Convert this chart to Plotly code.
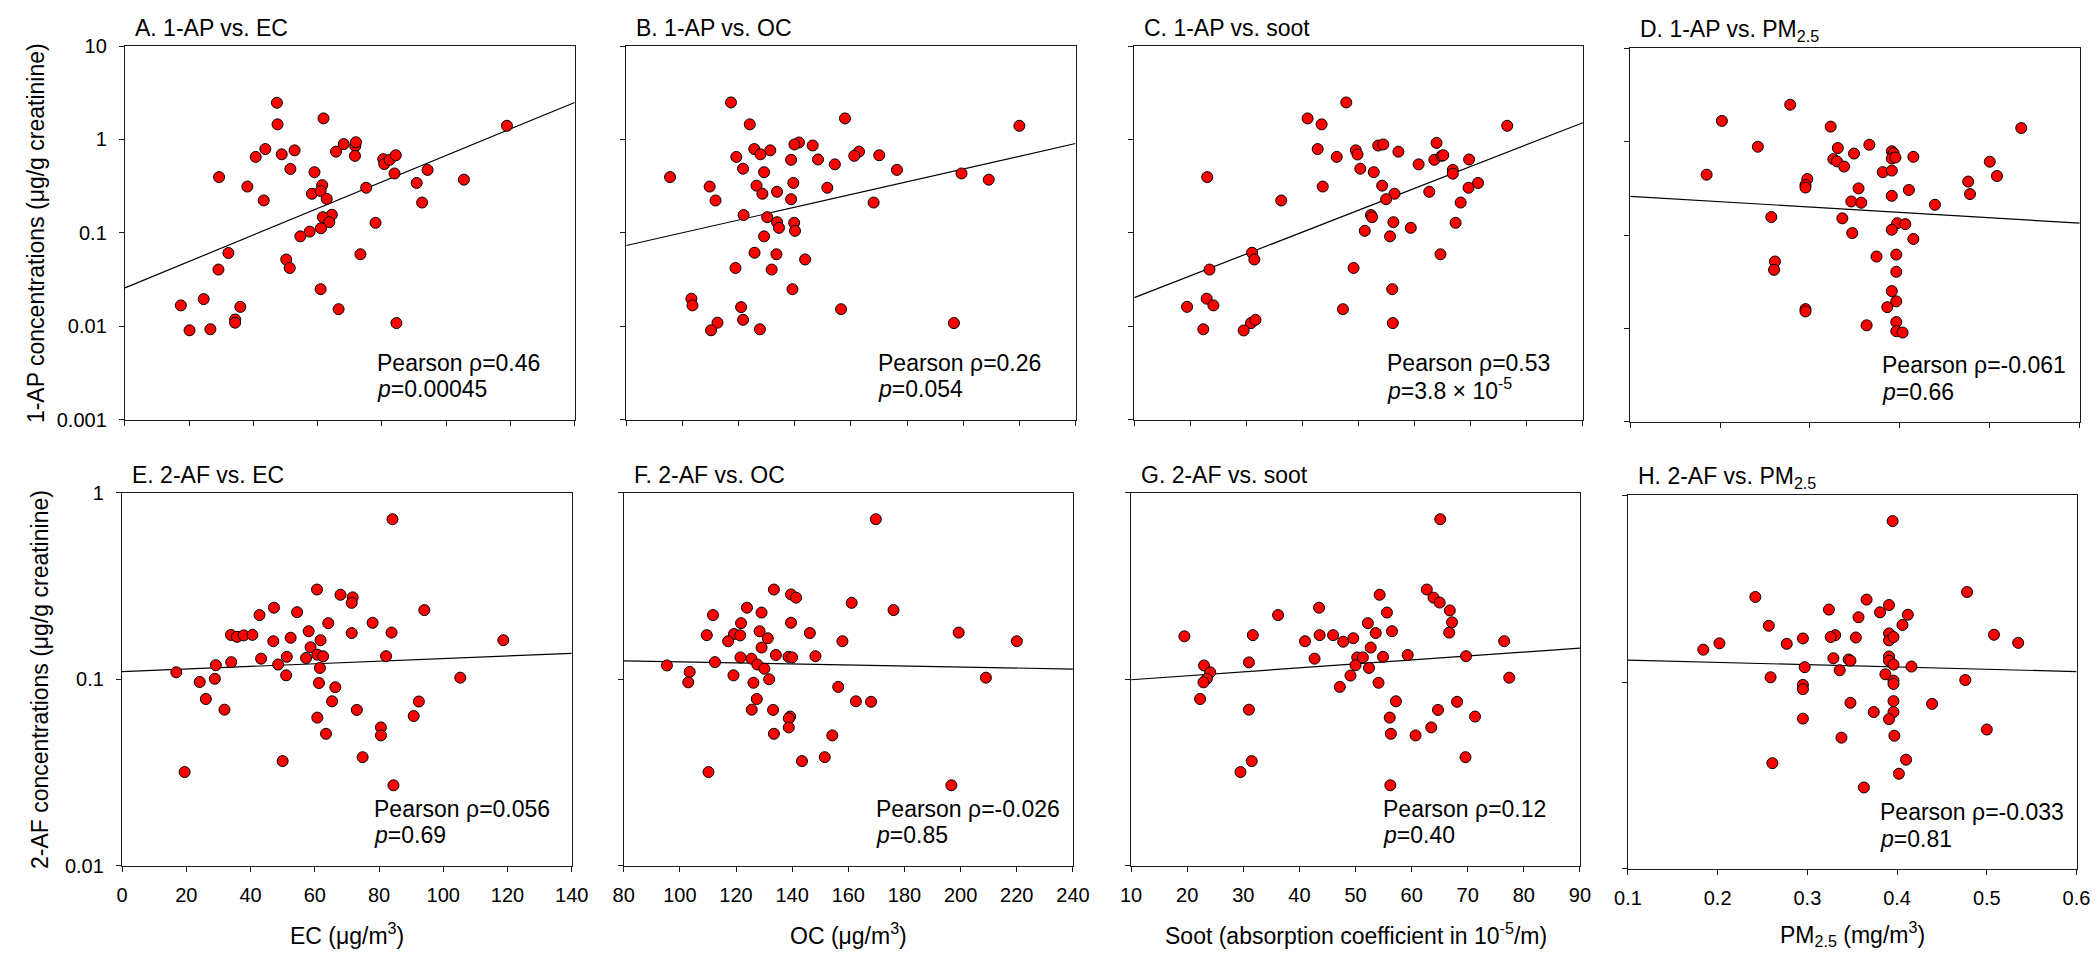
import plotly.graph_objects as go

W, H = 2100, 955
FONT = "Liberation Sans, Arial, sans-serif"

# ---------------- data ----------------
xA = [47.3, 47.5, 61.8, 118.9, 43.7, 40.7, 48.8, 52.8, 51.5, 29.3, 38.1, 43.2, 59.0, 61.4, 58.2, 60.9, 62.8, 68.1, 65.7, 71.7, 71.9, 71.6, 80.4, 80.7, 82.4, 84.3, 83.9, 94.2, 90.8, 105.5, 92.5, 75.1, 64.4, 61.6, 63.6, 61.0, 57.5, 54.6, 78.0, 32.2, 73.3, 50.2, 51.3, 29.1, 60.9, 17.4, 24.5, 35.9, 66.5, 34.3, 34.3, 20.1, 26.6, 84.5]
yA = [2.47, 1.45, 1.68, 1.40, 0.789, 0.65, 0.693, 0.764, 0.483, 0.395, 0.313, 0.222, 0.446, 0.324, 0.262, 0.28, 0.231, 0.891, 0.74, 0.848, 0.933, 0.667, 0.615, 0.545, 0.605, 0.677, 0.432, 0.472, 0.342, 0.371, 0.211, 0.304, 0.156, 0.147, 0.13, 0.112, 0.103, 0.0916, 0.128, 0.0608, 0.0589, 0.0518, 0.042, 0.0404, 0.0249, 0.0167, 0.0195, 0.0161, 0.0152, 0.0118, 0.0109, 0.00904, 0.00927, 0.0108]

xB = [117.3, 124.0, 157.9, 220.0, 141.5, 139.9, 146.4, 125.6, 131.3, 127.8, 119.2, 138.7, 148.3, 162.9, 161.2, 170.1, 154.3, 121.6, 129.1, 176.4, 199.4, 209.1, 95.6, 109.7, 126.4, 139.5, 151.6, 111.8, 128.5, 133.7, 138.7, 168.1, 121.8, 130.2, 133.7, 134.4, 139.8, 140.1, 129.1, 125.7, 133.5, 143.7, 118.9, 131.8, 139.2, 103.2, 103.6, 156.5, 120.9, 121.6, 112.5, 110.2, 127.6, 196.7]
yB = [2.49, 1.45, 1.68, 1.40, 0.927, 0.883, 0.861, 0.789, 0.764, 0.693, 0.65, 0.605, 0.61, 0.74, 0.667, 0.677, 0.541, 0.486, 0.446, 0.472, 0.432, 0.371, 0.395, 0.313, 0.32, 0.342, 0.304, 0.222, 0.262, 0.275, 0.229, 0.211, 0.155, 0.147, 0.13, 0.113, 0.128, 0.105, 0.0916, 0.0612, 0.0589, 0.0518, 0.042, 0.0404, 0.0249, 0.0197, 0.0167, 0.0152, 0.016, 0.0117, 0.0109, 0.00904, 0.00927, 0.0108]

xC = [47.8, 40.9, 43.4, 76.5, 63.9, 53.5, 54.4, 42.7, 49.5, 49.8, 57.1, 46.1, 63.5, 64.8, 65.1, 69.7, 60.7, 50.3, 52.7, 66.8, 66.8, 23.0, 43.6, 54.2, 71.3, 69.6, 62.6, 56.4, 54.9, 36.2, 68.2, 52.2, 52.4, 56.2, 59.3, 67.3, 51.1, 55.6, 31.0, 31.4, 64.6, 23.4, 49.1, 56.0, 22.9, 24.1, 19.4, 47.2, 30.8, 31.6, 56.1, 22.3, 29.5]
yC = [2.49, 1.68, 1.45, 1.40, 0.918, 0.861, 0.883, 0.789, 0.764, 0.69, 0.74, 0.65, 0.605, 0.667, 0.677, 0.61, 0.541, 0.486, 0.446, 0.472, 0.43, 0.395, 0.313, 0.32, 0.342, 0.304, 0.275, 0.262, 0.229, 0.222, 0.211, 0.155, 0.147, 0.13, 0.113, 0.128, 0.105, 0.0916, 0.0612, 0.0518, 0.0589, 0.0404, 0.042, 0.0249, 0.0197, 0.0167, 0.0161, 0.0152, 0.0108, 0.0117, 0.0108, 0.00927, 0.009]

xD = [0.278, 0.202, 0.323, 0.535, 0.242, 0.366, 0.331, 0.349, 0.391, 0.393, 0.391, 0.395, 0.415, 0.326, 0.330, 0.338, 0.381, 0.391, 0.5, 0.508, 0.185, 0.297, 0.295, 0.295, 0.354, 0.41, 0.476, 0.478, 0.391, 0.346, 0.357, 0.439, 0.257, 0.336, 0.397, 0.406, 0.391, 0.347, 0.415, 0.374, 0.396, 0.261, 0.26, 0.396, 0.391, 0.396, 0.386, 0.295, 0.295, 0.363, 0.396, 0.396, 0.403]
yD = [2.49, 1.67, 1.45, 1.40, 0.883, 0.927, 0.855, 0.746, 0.789, 0.752, 0.661, 0.677, 0.688, 0.65, 0.615, 0.541, 0.472, 0.49, 0.61, 0.429, 0.443, 0.398, 0.344, 0.323, 0.316, 0.304, 0.374, 0.275, 0.263, 0.229, 0.222, 0.211, 0.156, 0.151, 0.134, 0.131, 0.114, 0.105, 0.0908, 0.0589, 0.0618, 0.0521, 0.0424, 0.0404, 0.0251, 0.0195, 0.0169, 0.0161, 0.0152, 0.0108, 0.0117, 0.00934, 0.00904]

xE = [84.2, 60.7, 68.0, 71.8, 71.5, 47.3, 94.1, 42.8, 54.5, 78.0, 64.2, 83.9, 71.5, 58.1, 33.9, 35.8, 37.9, 40.6, 47.1, 52.5, 61.8, 118.7, 58.7, 60.8, 62.6, 57.3, 43.3, 51.3, 82.2, 34.0, 29.2, 48.6, 61.6, 16.9, 51.1, 105.3, 24.2, 28.9, 61.3, 66.4, 26.1, 65.4, 92.4, 31.9, 73.1, 60.8, 90.8, 80.6, 80.6, 63.5, 74.9, 50.0, 19.5, 84.5]
yE = [0.722, 0.303, 0.284, 0.275, 0.257, 0.242, 0.235, 0.221, 0.229, 0.201, 0.2, 0.178, 0.177, 0.181, 0.173, 0.169, 0.172, 0.173, 0.160, 0.167, 0.162, 0.162, 0.1486, 0.1355, 0.1328, 0.130, 0.129, 0.132, 0.133, 0.1236, 0.119, 0.12, 0.115, 0.109, 0.105, 0.102, 0.0967, 0.1006, 0.0955, 0.0906, 0.0784, 0.0762, 0.076, 0.0687, 0.0685, 0.0623, 0.0635, 0.0552, 0.05, 0.051, 0.0382, 0.0364, 0.0318, 0.027]

xF = [169.8, 133.5, 139.6, 141.4, 161.2, 123.9, 129.1, 176.1, 111.8, 121.8, 139.6, 128.4, 109.6, 119.3, 121.5, 117.2, 131.3, 146.3, 157.9, 199.3, 220.0, 129.1, 134.2, 121.6, 125.5, 138.7, 140.0, 148.3, 95.4, 112.5, 127.6, 130.1, 103.5, 119.1, 131.8, 103.0, 126.2, 209.0, 156.4, 127.4, 162.7, 168.1, 125.6, 133.2, 139.3, 138.8, 138.8, 133.5, 154.3, 151.6, 143.5, 110.2, 196.7]
yF = [0.722, 0.303, 0.285, 0.274, 0.257, 0.242, 0.228, 0.235, 0.221, 0.2, 0.201, 0.181, 0.1725, 0.175, 0.172, 0.16, 0.166, 0.177, 0.16, 0.178, 0.16, 0.148, 0.135, 0.131, 0.129, 0.132, 0.131, 0.133, 0.1186, 0.1236, 0.12, 0.114, 0.1095, 0.105, 0.1, 0.0963, 0.0958, 0.102, 0.091, 0.0784, 0.0762, 0.0757, 0.0687, 0.0685, 0.0631, 0.0617, 0.0552, 0.051, 0.05, 0.0382, 0.0364, 0.0318, 0.027]

xG = [65.1, 62.7, 54.3, 63.9, 65.0, 43.5, 66.8, 36.2, 55.6, 52.2, 67.2, 19.5, 31.7, 43.6, 46.0, 53.6, 56.5, 66.7, 41.0, 47.8, 49.6, 76.5, 52.7, 42.7, 50.3, 51.3, 54.9, 59.3, 69.7, 23.0, 31.0, 24.1, 23.5, 22.9, 50.0, 52.4, 49.1, 77.4, 54.1, 47.2, 22.3, 57.2, 68.1, 31.0, 64.7, 56.1, 71.3, 63.5, 56.3, 60.7, 69.6, 31.5, 29.5, 56.2]
yG = [0.722, 0.303, 0.284, 0.274, 0.258, 0.242, 0.234, 0.221, 0.228, 0.2, 0.202, 0.170, 0.1725, 0.1725, 0.1725, 0.177, 0.181, 0.178, 0.16, 0.159, 0.166, 0.16, 0.148, 0.129, 0.131, 0.131, 0.132, 0.135, 0.133, 0.1186, 0.1232, 0.109, 0.1006, 0.0963, 0.119, 0.115, 0.1047, 0.102, 0.0958, 0.091, 0.0784, 0.0762, 0.0757, 0.0687, 0.0685, 0.0623, 0.0631, 0.0552, 0.051, 0.05, 0.0382, 0.0364, 0.0318, 0.027]

xH = [0.395, 0.478, 0.242, 0.366, 0.391, 0.324, 0.381, 0.412, 0.357, 0.406, 0.257, 0.391, 0.391, 0.396, 0.331, 0.326, 0.354, 0.295, 0.508, 0.202, 0.277, 0.535, 0.184, 0.329, 0.346, 0.348, 0.391, 0.391, 0.396, 0.416, 0.297, 0.336, 0.387, 0.259, 0.396, 0.396, 0.476, 0.295, 0.295, 0.348, 0.396, 0.439, 0.374, 0.396, 0.391, 0.295, 0.5, 0.397, 0.338, 0.261, 0.41, 0.402, 0.363]
yH = [0.726, 0.303, 0.285, 0.276, 0.258, 0.244, 0.236, 0.229, 0.222, 0.202, 0.2, 0.182, 0.167, 0.174, 0.178, 0.174, 0.173, 0.171, 0.179, 0.161, 0.160, 0.162, 0.149, 0.134, 0.132, 0.130, 0.137, 0.130, 0.124, 0.121, 0.120, 0.1156, 0.110, 0.106, 0.1017, 0.0977, 0.1025, 0.0965, 0.0916, 0.0774, 0.079, 0.0764, 0.0691, 0.0691, 0.0633, 0.0637, 0.0557, 0.0516, 0.0504, 0.0368, 0.0384, 0.0323, 0.0273]

# regression line values at the left and right end of each x axis
fitA = [0.0257, 2.49]
fitB = [0.0731, 0.904]
fitC = [0.0202, 1.51]
fitD = [0.26, 0.134]
fitE = [0.110, 0.1377]
fitF = [0.1255, 0.1135]
fitG = [0.0994, 0.147]
fitH = [0.131, 0.1137]

# x tick values (first / last = axis range)
ticksEC = [0, 20, 40, 60, 80, 100, 120, 140]
ticksOC = [80, 100, 120, 140, 160, 180, 200, 220, 240]
ticksSoot = [10, 20, 30, 40, 50, 60, 70, 80, 90]
ticksPM = [0.1, 0.2, 0.3, 0.4, 0.5, 0.6]
ticktextPM = ["0.1", "0.2", "0.3", "0.4", "0.5", "0.6"]

yticks1AP = [0.001, 0.01, 0.1, 1, 10]
yticktext1AP = ["0.001", "0.01", "0.1", "1", "10"]
yticks2AF = [0.01, 0.1, 1]
yticktext2AF = ["0.01", "0.1", "1"]

titles = ["A. 1-AP vs. EC", "B. 1-AP vs. OC", "C. 1-AP vs. soot", "D. 1-AP vs. PM<sub>2.5</sub>",
          "E. 2-AF vs. EC", "F. 2-AF vs. OC", "G. 2-AF vs. soot", "H. 2-AF vs. PM<sub>2.5</sub>"]
rho_text = ["Pearson \u03c1=0.46", "Pearson \u03c1=0.26", "Pearson \u03c1=0.53", "Pearson \u03c1=-0.061",
            "Pearson \u03c1=0.056", "Pearson \u03c1=-0.026", "Pearson \u03c1=0.12", "Pearson \u03c1=-0.033"]
p_text = ["<i>p</i>=0.00045", "<i>p</i>=0.054", "<i>p</i>=3.8 \u00d7 10<sup>-5</sup>", "<i>p</i>=0.66",
          "<i>p</i>=0.69", "<i>p</i>=0.85", "<i>p</i>=0.40", "<i>p</i>=0.81"]
xtitles = ["EC (\u03bcg/m<sup>3</sup>)", "OC (\u03bcg/m<sup>3</sup>)",
           "Soot (absorption coefficient in 10<sup>-5</sup>/m)", "PM<sub>2.5</sub> (mg/m<sup>3</sup>)"]
ytitles = ["1-AP concentrations (\u03bcg/g creatinine)", "2-AF concentrations (\u03bcg/g creatinine)"]

# ---------------- layout geometry (pixels) ----------------
xdom_px = [(104.5, 561), (613.3, 1069.3), (1129, 1584.3), (1632.3, 2088.5),
           (101.5, 558), (610.7, 1066.7), (1125.7, 1581.3), (1630, 2085.3)]
ydom_px = [(27.7, 410), (27.7, 410), (27.7, 410), (30, 412.3),
           (485, 866.7), (485, 866.7), (485, 866.7), (487.3, 870)]

def px(x):
    return x / W

def py(y):
    return 1 - y / H

xs = [xA, xB, xC, xD, xE, xF, xG, xH]
ys = [yA, yB, yC, yD, yE, yF, yG, yH]
fits = [fitA, fitB, fitC, fitD, fitE, fitF, fitG, fitH]
xticks_sets = [ticksEC, ticksOC, ticksSoot, ticksPM]
xticktext_sets = [[str(v) for v in ticksEC], [str(v) for v in ticksOC], [str(v) for v in ticksSoot], ticktextPM]

fig = go.Figure()
layout = dict(width=W, height=H, margin=dict(l=0, r=0, t=0, b=0),
              paper_bgcolor="white", plot_bgcolor="white", showlegend=False,
              font=dict(family=FONT, size=20, color="black"))
annotations = []
AX = "#1a1a1a"

for i in range(8):
    n = i + 1
    col = i % 4
    row = i // 4
    xa = "x" if n == 1 else f"x{n}"
    ya = "y" if n == 1 else f"y{n}"
    xticks = xticks_sets[col]
    xr = [xticks[0], xticks[-1]]

    # regression line
    fig.add_trace(go.Scatter(x=xr, y=fits[i], mode="lines", xaxis=xa, yaxis=ya,
                             line=dict(color="black", width=1.2), hoverinfo="skip"))
    # points
    fig.add_trace(go.Scatter(x=xs[i], y=ys[i], mode="markers", xaxis=xa, yaxis=ya,
                             marker=dict(size=11, color="#ff0000",
                                         line=dict(color="black", width=1))))

    x0, x1 = xdom_px[i]
    y0, y1 = ydom_px[i]
    layout["xaxis" if n == 1 else f"xaxis{n}"] = dict(
        domain=[px(x0), px(x1)], anchor=ya, range=xr,
        tickmode="array", tickvals=xticks, ticktext=xticktext_sets[col],
        showticklabels=(row == 1), ticks="outside", ticklen=5, tickwidth=1, tickcolor=AX,
        ticklabelstandoff=6,
        showline=True, linecolor=AX, linewidth=1.3, mirror=True,
        showgrid=False, zeroline=False,
        tickfont=dict(family=FONT, size=20, color="black"))
    if row == 0:
        yt, ytt, yr = yticks1AP, yticktext1AP, [-3, 1]
    else:
        yt, ytt, yr = yticks2AF, yticktext2AF, [-2, 0]
    layout["yaxis" if n == 1 else f"yaxis{n}"] = dict(
        domain=[py(y1), py(y0)], anchor=xa, type="log", range=yr,
        tickmode="array", tickvals=yt, ticktext=ytt,
        showticklabels=(col == 0), ticks="outside", ticklen=5, tickwidth=1, tickcolor=AX,
        ticklabelstandoff=8,
        showline=True, linecolor=AX, linewidth=1.3, mirror=True,
        showgrid=False, zeroline=False,
        tickfont=dict(family=FONT, size=20, color="black"))

    # panel title
    annotations.append(dict(text=titles[i], xref="paper", yref="paper",
                            x=px(x0 + 8), y=py(y0 - 18.5), xanchor="left", yanchor="middle",
                            showarrow=False, font=dict(family=FONT, size=23, color="black")))
    # statistics text
    annotations.append(dict(text=rho_text[i], xref="paper", yref="paper",
                            x=px(x0 + 254), y=py(y1 - 58), xanchor="left", yanchor="middle",
                            showarrow=False, font=dict(family=FONT, size=23, color="black")))
    annotations.append(dict(text=p_text[i], xref="paper", yref="paper",
                            x=px(x0 + 254), y=py(y1 - 31), xanchor="left", yanchor="middle",
                            showarrow=False, font=dict(family=FONT, size=23, color="black")))
    # x axis titles (bottom row)
    if row == 1:
        annotations.append(dict(text=xtitles[col], xref="paper", yref="paper",
                                x=px((x0 + x1) / 2), y=py(937), xanchor="center", yanchor="middle",
                                showarrow=False, font=dict(family=FONT, size=23, color="black")))
    # y axis titles (first column)
    if col == 0:
        annotations.append(dict(text=ytitles[row], xref="paper", yref="paper",
                                x=px(14.5 if row == 0 else 19), y=py((y0 + y1) / 2),
                                xanchor="center", yanchor="middle", textangle=-90,
                                showarrow=False, font=dict(family=FONT, size=23, color="black")))

layout["annotations"] = annotations
fig.update_layout(**layout)
fig.write_html("out.html")
